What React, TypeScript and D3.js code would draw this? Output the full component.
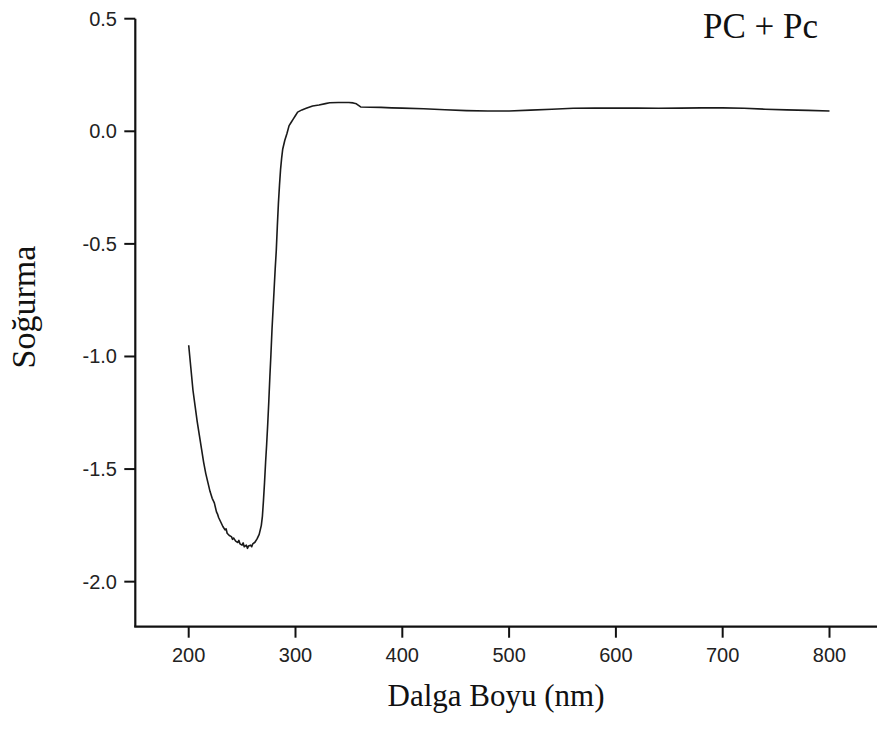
import React from "react";
import * as d3 from "d3";

const wavelength: number[] = [
  200, 202, 204, 206, 208, 210, 212, 214, 216, 218, 220, 222, 224, 226, 227, 228, 230, 232, 234, 235,
  236, 238, 240, 241, 242, 244, 246, 247, 248, 250, 251, 252, 254, 255, 256, 258, 259, 260, 262, 264,
  266, 268, 269, 270, 271, 272, 273, 274, 275, 276, 277, 278, 279, 280, 281, 282, 283, 284, 285, 286,
  287, 288, 290, 292, 294, 296, 298, 300, 302, 306, 310, 316, 322, 328, 332, 340, 350, 354, 357, 359,
  361, 370, 380, 390, 400, 420, 440, 460, 480, 500, 520, 540, 560, 580, 600, 620, 640, 660, 680, 700,
  720, 740, 760, 780, 800,
];

const absorbance: number[] = [
  -0.95, -1.05, -1.15, -1.22, -1.29, -1.35, -1.41, -1.47, -1.52, -1.56, -1.6, -1.63, -1.65, -1.69, -1.7, -1.715, -1.735, -1.755, -1.77, -1.765,
  -1.785, -1.795, -1.8, -1.812, -1.806, -1.82, -1.826, -1.817, -1.832, -1.838, -1.828, -1.845, -1.838, -1.852, -1.842, -1.838, -1.845, -1.832, -1.825, -1.81,
  -1.79, -1.75, -1.71, -1.64, -1.56, -1.47, -1.39, -1.3, -1.2, -1.09, -0.99, -0.88, -0.79, -0.7, -0.61, -0.53, -0.42, -0.32, -0.24, -0.17,
  -0.12, -0.08, -0.04, -0.01, 0.025, 0.04, 0.055, 0.07, 0.085, 0.095, 0.102, 0.112, 0.117, 0.123, 0.127, 0.128, 0.128, 0.126, 0.122, 0.115,
  0.108, 0.107, 0.106, 0.104, 0.103, 0.1, 0.096, 0.092, 0.09, 0.09, 0.094, 0.098, 0.102, 0.103, 0.103, 0.103, 0.102, 0.103, 0.104, 0.104,
  0.102, 0.098, 0.095, 0.093, 0.09,
];

const xTicks: number[] = [200, 300, 400, 500, 600, 700, 800];
const yTicks: number[] = [0.5, 0.0, -0.5, -1.0, -1.5, -2.0];
const xTitle = "Dalga Boyu (nm)";
const yTitle = "Soğurma";
const label = "PC + Pc";

const W = 877;
const H = 729;

export default function App() {
  const x = d3.scaleLinear().domain([150, 850]).range([135.3, 882.9]);
  const y = d3.scaleLinear().domain([-2.2, 0.5]).range([626.7, 18.7]);
  const data = wavelength.map((w, i) => [w, absorbance[i]] as [number, number]);
  const line = d3
    .line<[number, number]>()
    .x((d) => x(d[0]))
    .y((d) => y(d[1]));

  const sans = "'Liberation Sans', Arial, sans-serif";
  const serif = "'Liberation Serif', 'Times New Roman', serif";
  const x0 = x(150);
  const yBottom = y(-2.2);
  const fmt = (t: number) => t.toFixed(1);

  return (
    <svg
      width={W}
      height={H}
      style={{ position: "absolute", left: 0, top: 0, background: "#fff" }}
    >
      <rect x={0} y={0} width={W} height={H} fill="#fff" />
      <path d={line(data) || ""} fill="none" stroke="#1a1a1a" strokeWidth={1.6} strokeLinejoin="round" />
      <line x1={x0} x2={x0} y1={y(0.5)} y2={yBottom} stroke="#111" strokeWidth={2.2} />
      <line x1={x0 - 1.1} x2={W} y1={yBottom} y2={yBottom} stroke="#111" strokeWidth={2.2} />
      {yTicks.map((t) => (
        <g key={"y" + t}>
          <line x1={x0 - 11} x2={x0} y1={y(t)} y2={y(t)} stroke="#111" strokeWidth={2} />
          <text
            x={117}
            y={y(t)}
            dy="0.35em"
            textAnchor="end"
            fontFamily={sans}
            fontSize={20}
            fill="#222"
          >
            {fmt(t)}
          </text>
        </g>
      ))}
      {xTicks.map((t) => (
        <g key={"x" + t}>
          <line x1={x(t)} x2={x(t)} y1={yBottom} y2={yBottom + 11} stroke="#111" strokeWidth={2} />
          <text
            x={x(t)}
            y={662}
            textAnchor="middle"
            fontFamily={sans}
            fontSize={20}
            fill="#222"
          >
            {t}
          </text>
        </g>
      ))}
      <text x={496} y={706} textAnchor="middle" fontFamily={serif} fontSize={31} fill="#111">
        {xTitle}
      </text>
      <text
        transform={`translate(35,307) rotate(-90)`}
        textAnchor="middle"
        fontFamily={serif}
        fontSize={34}
        fill="#111"
      >
        {yTitle}
      </text>
      <text x={818} y={38} textAnchor="end" fontFamily={serif} fontSize={35} fill="#111">
        {label}
      </text>
    </svg>
  );
}
